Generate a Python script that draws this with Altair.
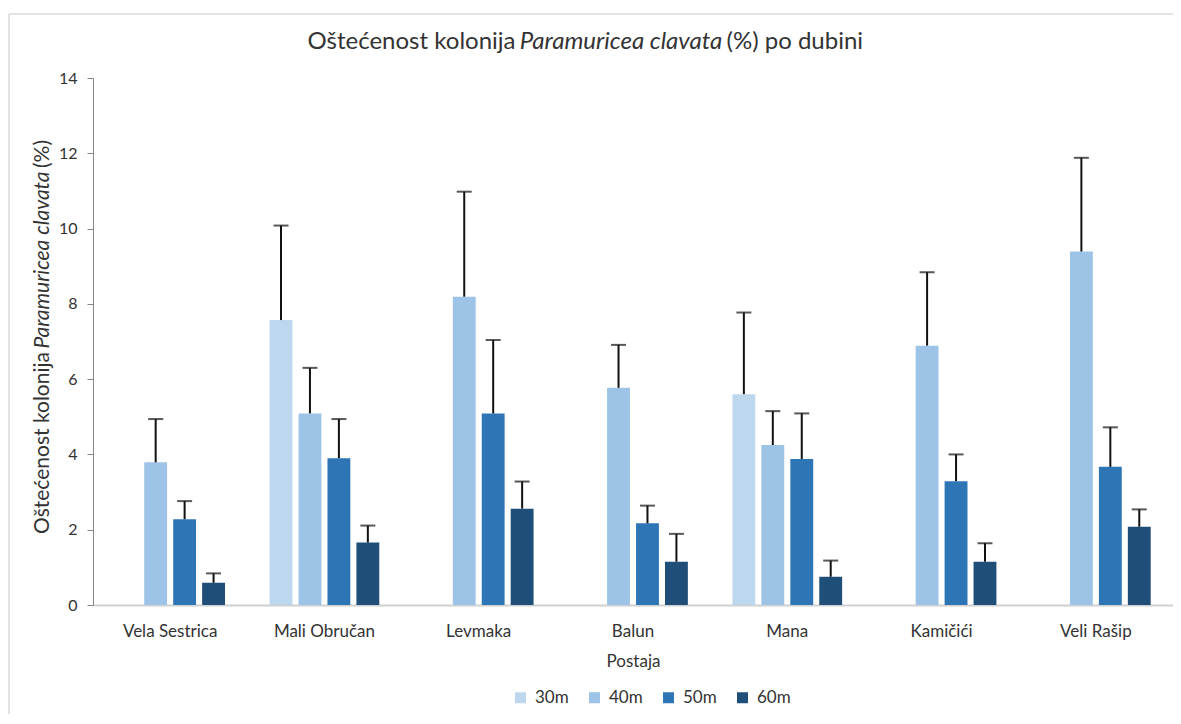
import altair as alt
import pandas as pd

stations = ["Vela Sestrica", "Mali Obručan", "Levmaka", "Balun", "Mana", "Kamičići", "Veli Rašip"]
depths = ["30m", "40m", "50m", "60m"]
colors = ["#bdd7ee", "#9dc3e6", "#2e75b6", "#1f4e79"]

m30 = [None, 7.57, None, None, 5.60, None, None]
e30 = [None, 2.51, None, None, 2.17, None, None]
m40 = [3.79, 5.09, 8.19, 5.77, 4.25, 6.89, 9.39]
e40 = [1.15, 1.21, 2.79, 1.14, 0.90, 1.95, 2.49]
m50 = [2.28, 3.90, 5.09, 2.17, 3.88, 3.29, 3.67]
e50 = [0.48, 1.04, 1.95, 0.47, 1.21, 0.71, 1.05]
m60 = [0.59, 1.66, 2.56, 1.15, 0.75, 1.15, 2.08]
e60 = [0.25, 0.45, 0.72, 0.74, 0.43, 0.49, 0.46]

y_ticks = [0, 2, 4, 6, 8, 10, 12, 14]

title_parts = ["Oštećenost kolonija", "Paramuricea clavata", "(%) po dubini"]
ytitle_parts = ["Oštećenost kolonija", "Paramuricea clavata", "(%)"]
x_title = "Postaja"

rows = []
for d, ms, es in zip(depths, [m30, m40, m50, m60], [e30, e40, e50, e60]):
    for s, m, e in zip(stations, ms, es):
        if m is not None:
            rows.append({"Postaja": s, "Dubina": d, "v": m, "top": m + e})
df = pd.DataFrame(rows)

W, H = 1080, 527
FONT = "Lato"
TXT = "#333333"

x_enc = alt.X("Postaja:N", sort=stations,
              scale=alt.Scale(paddingInner=0, paddingOuter=0),
              axis=alt.Axis(title=x_title, labelAngle=0, ticks=False,
                            domainColor="#d0d0d0", domainWidth=2,
                            labelFontSize=17, labelFont=FONT, labelColor=TXT,
                            labelPadding=18, titleFontSize=17, titleFont=FONT,
                            titleFontWeight="normal", titleColor=TXT, titlePadding=14))
xo_enc = alt.XOffset("Dubina:N", sort=depths,
                     scale=alt.Scale(domain=depths, paddingInner=0.21, paddingOuter=0.77))
y_scale = alt.Scale(domain=[0, 14], nice=False)

base = alt.Chart(df)

bars = base.mark_bar().encode(
    x=x_enc,
    xOffset=xo_enc,
    y=alt.Y("v:Q", scale=y_scale,
            axis=alt.Axis(values=y_ticks, title=None, grid=False, tickSize=6,
                          tickColor="#868686", domainColor="#868686",
                          labelFontSize=16, labelFont=FONT, labelColor=TXT,
                          labelPadding=10)),
    color=alt.Color("Dubina:N", sort=depths,
                    scale=alt.Scale(domain=depths, range=colors),
                    legend=alt.Legend(title=None, orient="none", direction="horizontal",
                                      legendX=419, legendY=611, symbolType="square",
                                      symbolSize=121, symbolStrokeWidth=0,
                                      labelFontSize=17, labelFont=FONT, labelColor=TXT,
                                      labelOffset=6, columnPadding=17)),
)

err_rule = base.mark_rule(color="#111111", strokeWidth=2).encode(
    x=alt.X("Postaja:N", sort=stations),
    xOffset=xo_enc,
    y=alt.Y("v:Q", scale=y_scale),
    y2="top:Q",
)

err_cap = base.mark_tick(color="#111111", thickness=2, size=15).encode(
    x=alt.X("Postaja:N", sort=stations),
    xOffset=xo_enc,
    y=alt.Y("top:Q", scale=y_scale),
)

tdf = pd.DataFrame({"t": [0]})

def txt(s, x, y, size, align, italic=False, angle=0):
    return alt.Chart(pd.DataFrame({"t": [s]})).mark_text(
        font=FONT, fontSize=size, color=TXT, align=align, baseline="middle",
        fontStyle="italic" if italic else "normal", angle=angle,
    ).encode(text="t:N", x=alt.value(x), y=alt.value(y))

# chart title (italic species name)
tc = 528
tw = 201
title_layers = [
    txt(title_parts[0], tc - tw / 2 - 5, -36, 24, "right"),
    txt(title_parts[1], tc, -36, 24, "center", italic=True),
    txt(title_parts[2], tc + tw / 2 + 5, -36, 24, "left"),
]

# y axis title (rotated)
yc = 182
yw = 176
ytitle_layers = [
    txt(ytitle_parts[0], -50, yc + yw / 2 + 4, 21, "right", angle=270),
    txt(ytitle_parts[1], -50, yc, 21, "center", italic=True, angle=270),
    txt(ytitle_parts[2], -50, yc - yw / 2 - 4, 21, "left", angle=270),
]

frame_left = alt.Chart(tdf).mark_rule(color="#d9d9d9", strokeWidth=1.5).encode(
    x=alt.value(-84), y=alt.value(-64), y2=alt.value(H + 200))
frame_top = alt.Chart(tdf).mark_rule(color="#d9d9d9", strokeWidth=1.5).encode(
    x=alt.value(-84), x2=alt.value(W + 200), y=alt.value(-64))

chart = alt.layer(
    frame_left, frame_top, bars, err_rule, err_cap, *title_layers, *ytitle_layers
).properties(
    width=W, height=H,
    background="white",
    padding={"left": 85, "top": 70, "right": 0, "bottom": 109},
    autosize=alt.AutoSizeParams(type="none"),
).configure_view(stroke=None)

chart.save("out.html", embed_options={"renderer": "svg", "actions": False})
